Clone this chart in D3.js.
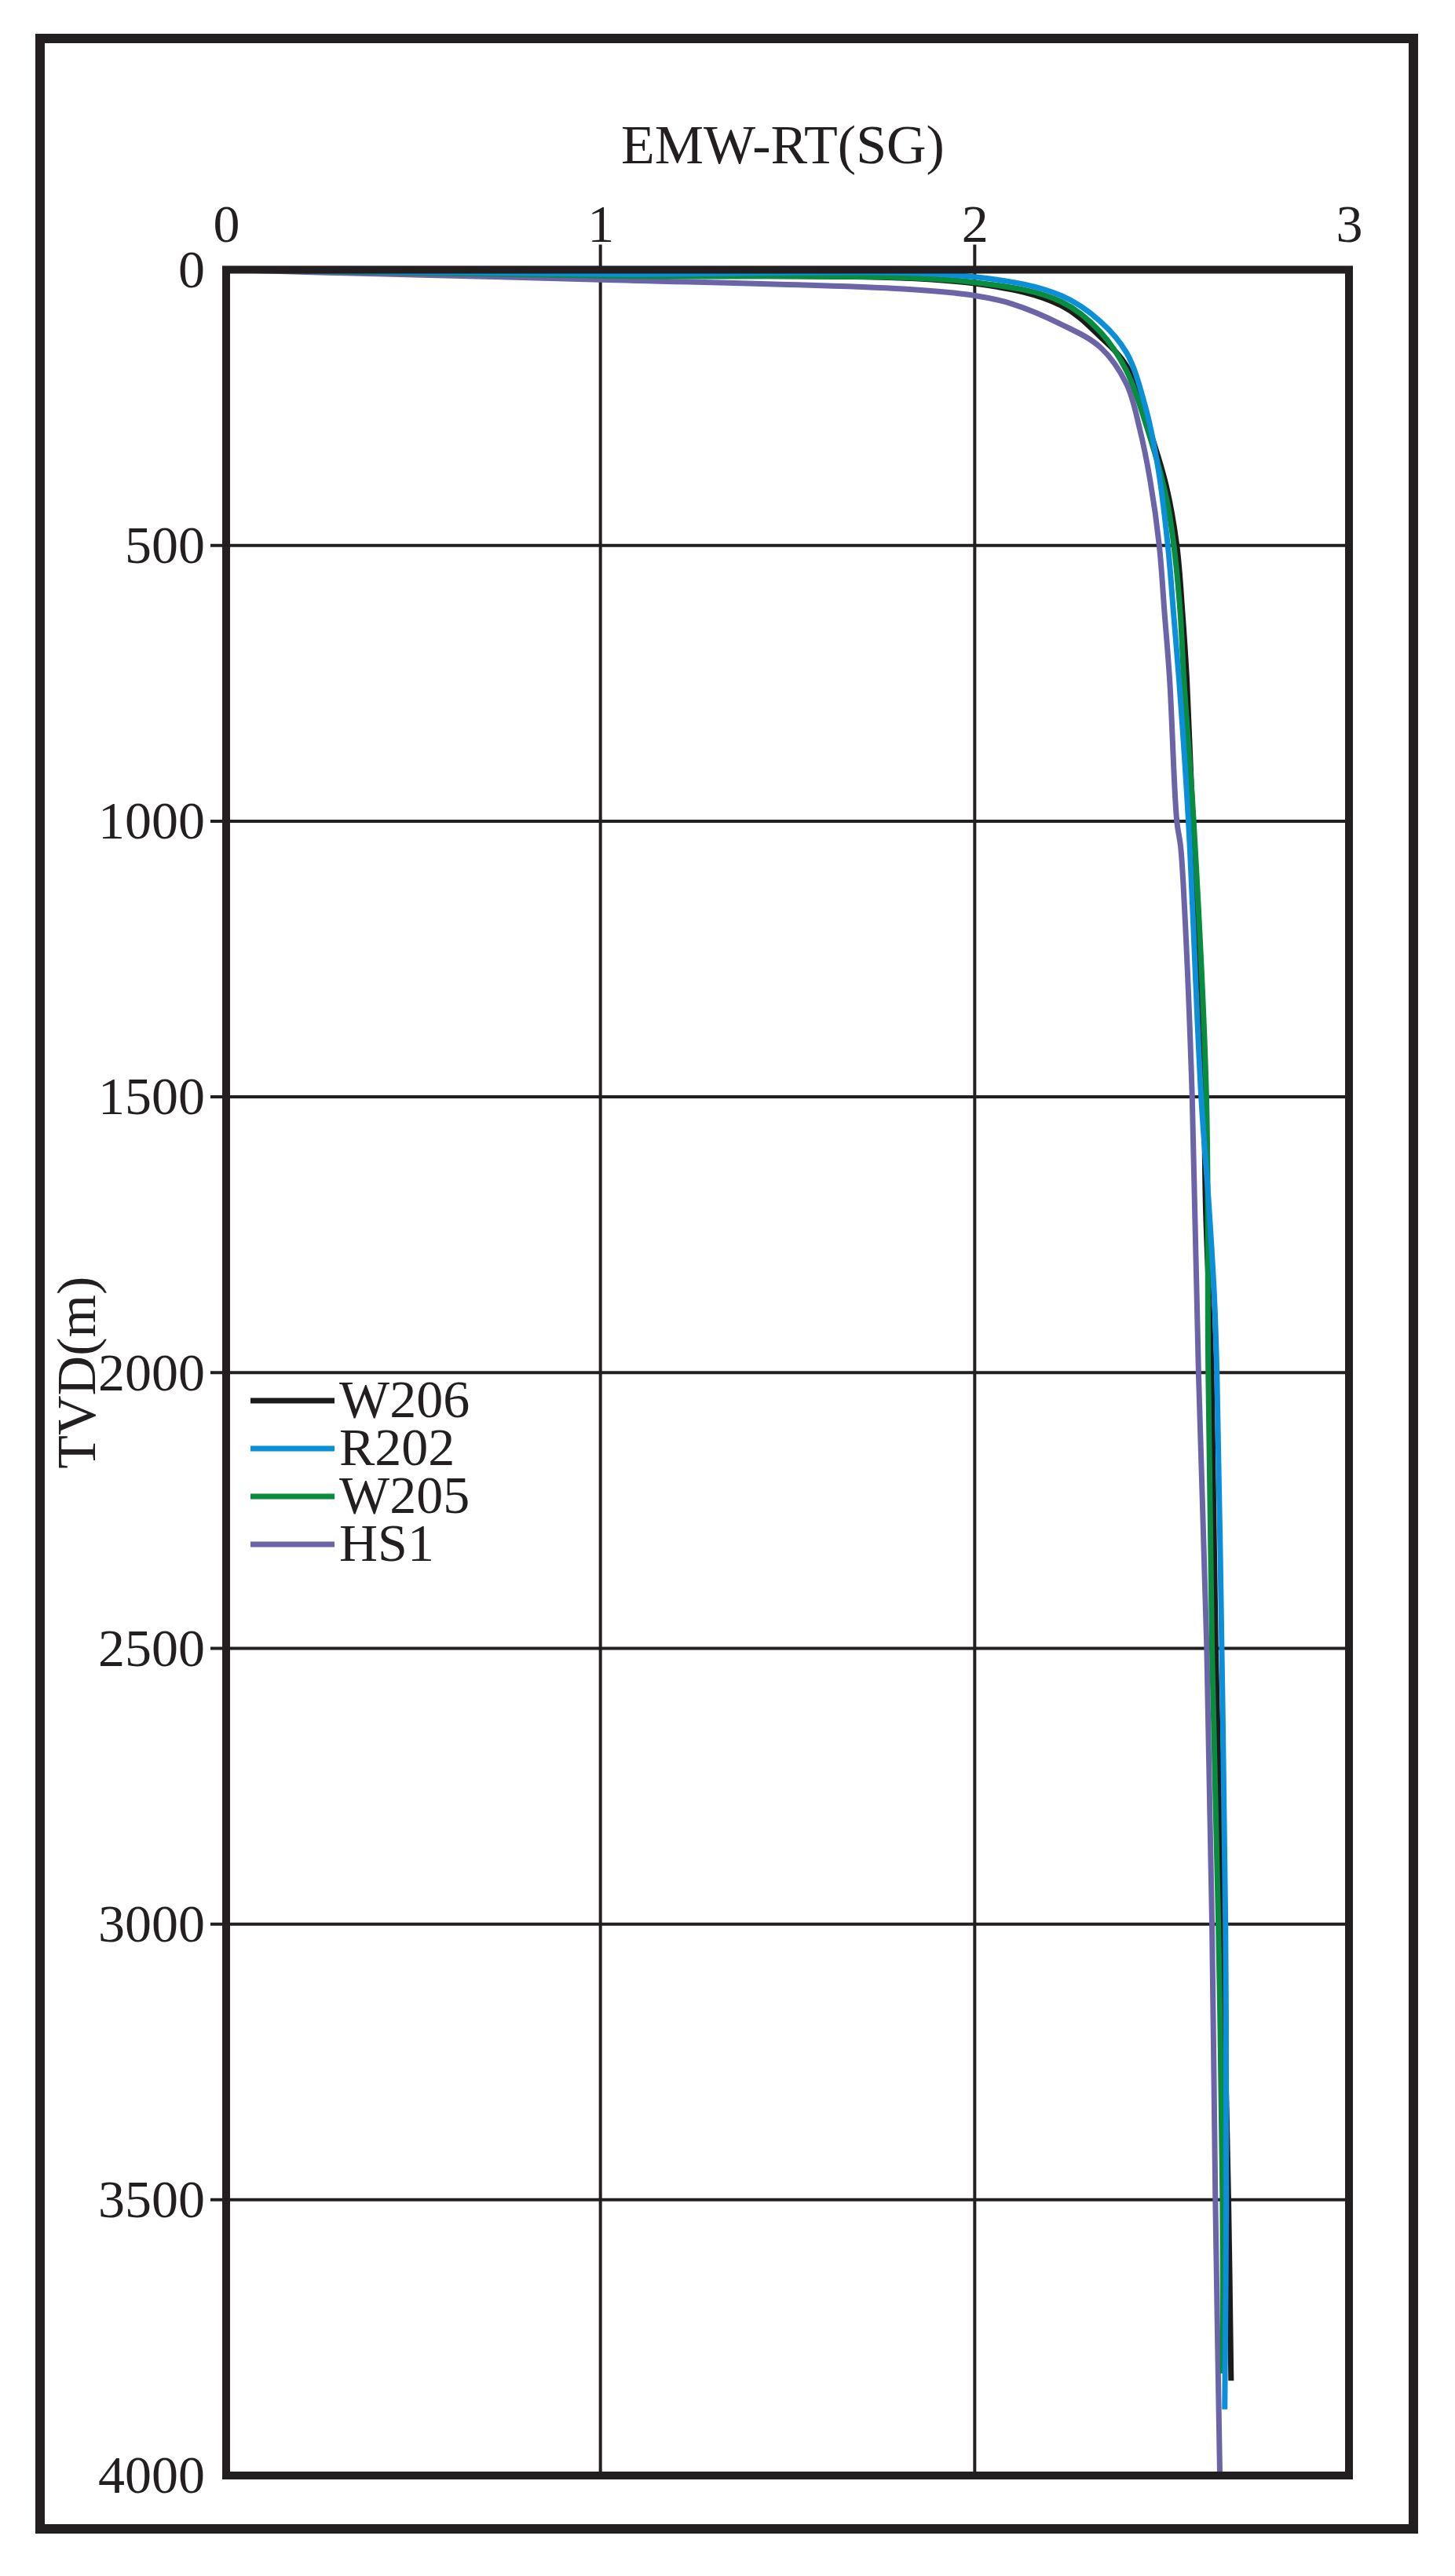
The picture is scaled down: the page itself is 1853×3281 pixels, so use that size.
<html>
<head>
<meta charset="utf-8">
<style>
  body { margin: 0; background: #fff; }
  text { font-family: "Liberation Serif", "Times New Roman", serif; fill: #231f20; }
</style>
</head>
<body>
<svg id="chart"></svg>
<script src="https://d3js.org/d3.v7.min.js"></script>
<script>
// EMW-RT values against depth: [TVD (m), EMW (SG)]
var w206 = [[0,0],[10,1],[25,2],[65,2.231],[122,2.336],[175,2.406],[265,2.455],[390,2.511],[500,2.54],[620,2.555],[745,2.567],[1000,2.583],[1500,2.612],[1700,2.617],[2000,2.633],[2500,2.644],[3000,2.662],[3500,2.678],[3828,2.685]];
var r202 = [[0,0],[8,1],[13,2],[47,2.231],[94,2.336],[151,2.406],[246,2.455],[360,2.49],[500,2.516],[621,2.531],[745,2.546],[1000,2.571],[1500,2.605],[1700,2.626],[1860,2.64],[2000,2.647],[2500,2.66],[3000,2.67],[3500,2.672],[3880,2.668]];
var w205 = [[0,0],[11,1],[23,2],[58,2.231],[113,2.336],[184,2.406],[275,2.455],[407,2.51],[500,2.532],[621,2.549],[745,2.559],[1000,2.585],[1500,2.619],[2000,2.624],[2500,2.634],[3000,2.651],[3500,2.662],[3815,2.663]];
var hs1  = [[0,0],[5,0.25],[18,1],[35,1.81],[47,2],[62,2.1],[99,2.231],[141,2.336],[208,2.406],[289,2.441],[383,2.469],[500,2.493],[621,2.507],[745,2.521],[1000,2.54],[1045,2.55],[1150,2.56],[1500,2.581],[2000,2.598],[2500,2.62],[3000,2.634],[3500,2.643],[4000,2.655]];

var wellNames = ["W206", "R202", "W205", "HS1"];
var xTicks = [0, 1, 2, 3];
var yTicks = [0, 500, 1000, 1500, 2000, 2500, 3000, 3500, 4000];
var xTitle = "EMW-RT(SG)";
var yTitle = "TVD(m)";

var colors = { W206: "#1d1a1a", R202: "#0b8fd8", W205: "#0a8c3f", HS1: "#6b64a8" };
var series = { W206: w206, R202: r202, W205: w205, HS1: hs1 };

var W = 1853, H = 3281;
var pLeft = 288, pRight = 1718, pTop = 343.5, pBottom = 3153;

var svg = d3.select("#chart").attr("width", W).attr("height", H);
svg.append("rect").attr("width", W).attr("height", H).attr("fill", "#fff");

// outer frame
svg.append("rect")
  .attr("x", 51).attr("y", 49).attr("width", 1749).attr("height", 3172)
  .attr("fill", "none").attr("stroke", "#231f20").attr("stroke-width", 12);

var x = d3.scaleLinear().domain([0, 3]).range([pLeft, pRight]);
var y = d3.scaleLinear().domain([0, 4000]).range([pTop, pBottom]);

// grid lines (inner ticks only, poking out past the frame a little)
svg.append("g").selectAll("line")
  .data(xTicks.slice(1, -1)).enter().append("line")
  .attr("x1", function(d){ return x(d); }).attr("x2", function(d){ return x(d); })
  .attr("y1", pTop - 32).attr("y2", pBottom)
  .attr("stroke", "#231f20").attr("stroke-width", 4);

svg.append("g").selectAll("line")
  .data(yTicks.slice(1, -1)).enter().append("line")
  .attr("x1", pLeft - 20).attr("x2", pRight)
  .attr("y1", function(d){ return y(d); }).attr("y2", function(d){ return y(d); })
  .attr("stroke", "#231f20").attr("stroke-width", 4);

// axes: labels only
var xAxis = svg.append("g").attr("transform", "translate(0," + (pTop - 36) + ")")
  .call(d3.axisTop(x).tickValues(xTicks).tickSize(0).tickPadding(0).tickFormat(d3.format("d")));
xAxis.select(".domain").remove();
xAxis.selectAll("text").attr("font-size", 68).attr("font-family", "Liberation Serif").attr("fill", "#231f20");

var yAxis = svg.append("g").attr("transform", "translate(" + pLeft + ",0)")
  .call(d3.axisLeft(y).tickValues(yTicks).tickSize(0).tickPadding(27).tickFormat(d3.format("d")));
yAxis.select(".domain").remove();
yAxis.selectAll("text").attr("font-size", 68).attr("font-family", "Liberation Serif").attr("fill", "#231f20");

// curves
var line = d3.line()
  .x(function(d){ return x(d[1]); })
  .y(function(d){ return y(d[0]); })
  .curve(d3.curveCatmullRom.alpha(0.5));

["HS1", "W206", "W205", "R202"].forEach(function(name) {
  svg.append("path")
    .datum(series[name])
    .attr("d", line)
    .attr("fill", "none")
    .attr("stroke", colors[name])
    .attr("stroke-width", 7)
    .attr("stroke-linejoin", "round");
});

// plot border on top
svg.append("rect")
  .attr("x", pLeft).attr("y", pTop).attr("width", pRight - pLeft).attr("height", pBottom - pTop)
  .attr("fill", "none").attr("stroke", "#231f20").attr("stroke-width", 10);

// titles
svg.append("text").attr("x", (pLeft + pRight) / 2 - 6).attr("y", 208)
  .attr("text-anchor", "middle").attr("font-size", 70).text(xTitle);

svg.append("text")
  .attr("transform", "translate(121," + ((pTop + pBottom) / 2) + ") rotate(-90)")
  .attr("text-anchor", "middle").attr("font-size", 70).text(yTitle);

// legend
var legend = svg.append("g").attr("transform", "translate(319,1784)");
var item = legend.selectAll("g").data(wellNames).enter().append("g")
  .attr("transform", function(d, i){ return "translate(0," + (i * 61) + ")"; });
item.append("line").attr("x1", 0).attr("x2", 107).attr("y1", 0).attr("y2", 0)
  .attr("stroke", function(d){ return colors[d]; }).attr("stroke-width", 7);
item.append("text").attr("x", 113).attr("y", 21).attr("font-size", 68).text(function(d){ return d; });
</script>
</body>
</html>
